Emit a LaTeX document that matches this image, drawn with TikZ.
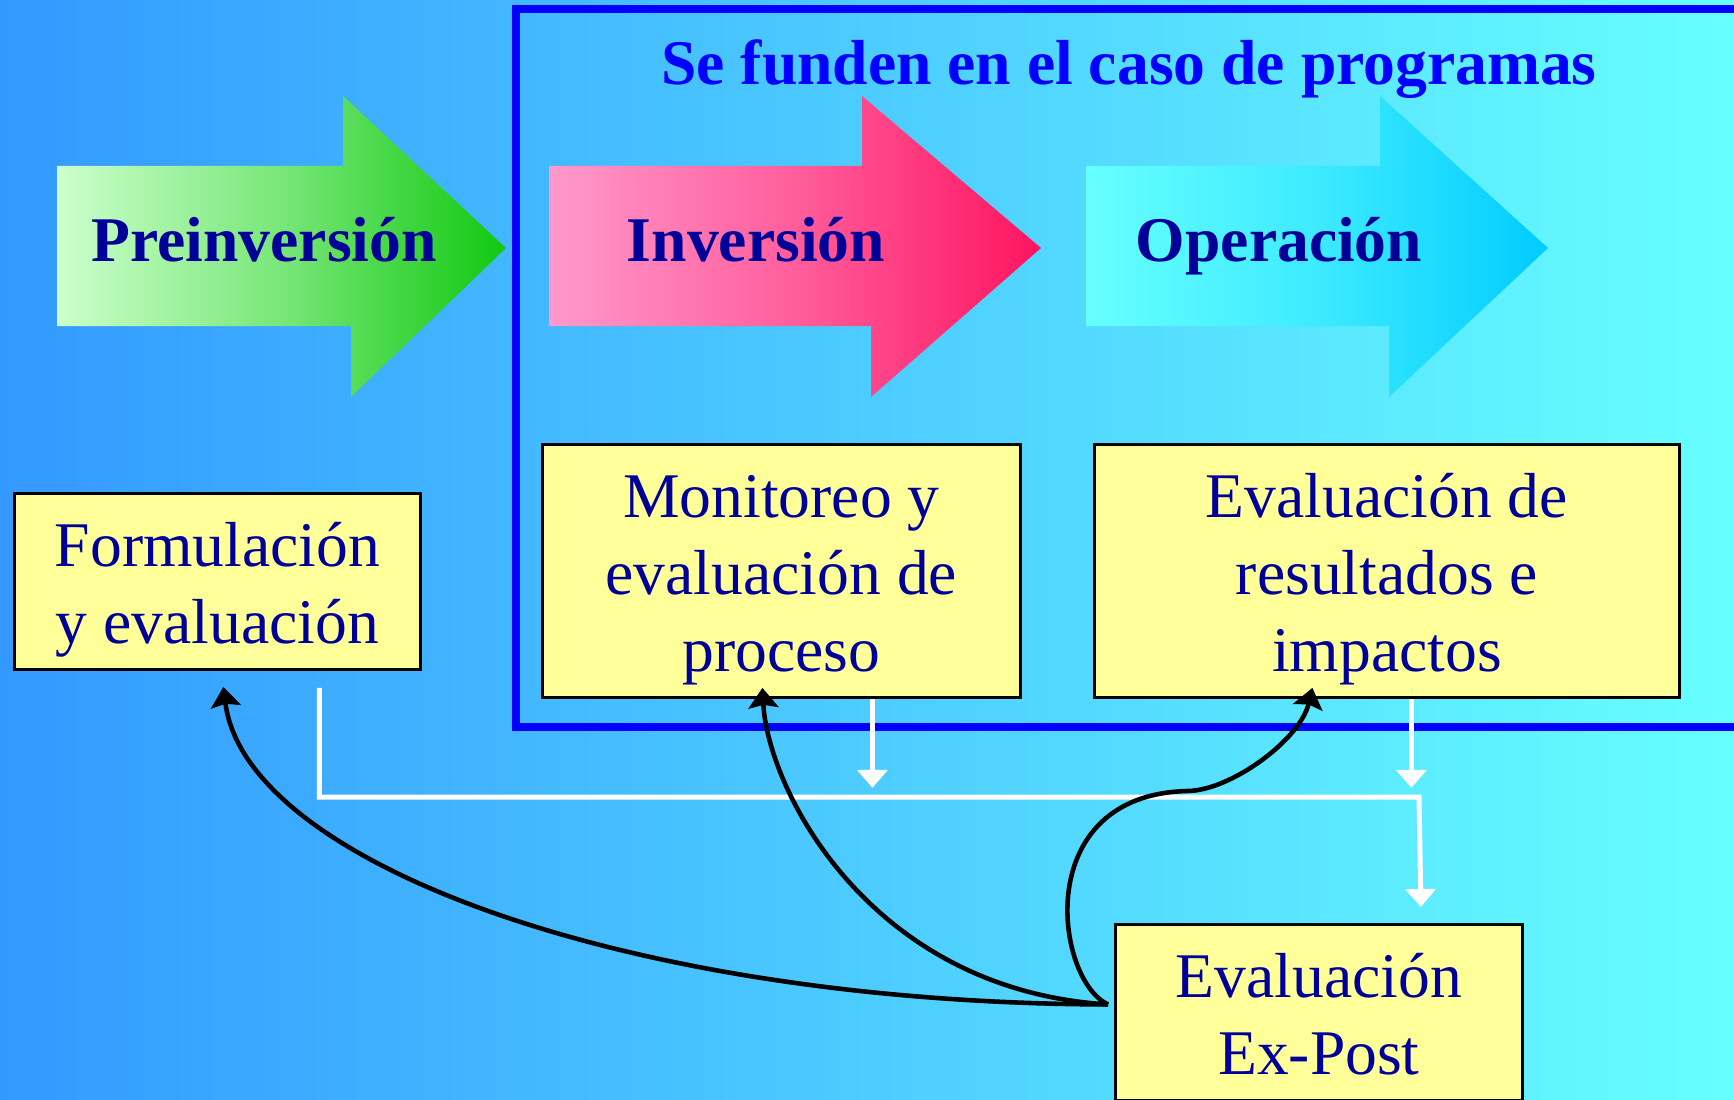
\documentclass[tikz,border=0pt]{standalone}
\usepackage{fontspec}
\setmainfont{Liberation Serif}
\usetikzlibrary{positioning,calc,arrows.meta}

\definecolor{bgleft}{HTML}{3399FF}
\definecolor{bgright}{HTML}{66FFFF}
\definecolor{frameblue}{HTML}{0000FF}
\definecolor{navy}{HTML}{000099}
\definecolor{boxyellow}{HTML}{FFFF99}
\definecolor{preleft}{HTML}{CCFFCC}
\definecolor{preright}{HTML}{11C811}
\definecolor{invleft}{HTML}{FF99CC}
\definecolor{invright}{HTML}{FF1460}
\definecolor{opeleft}{HTML}{66FFFF}
\definecolor{operight}{HTML}{00CCFF}

\newcommand{\tstr}{\rule{0pt}{20.8pt}}
\newcommand{\bstr}{\rule[-7.4pt]{0pt}{7.4pt}}

\begin{document}
\begin{tikzpicture}[x=0.1mm, y=-0.1mm,
  stagebox/.style={draw=black, line width=0.8pt, fill=boxyellow, anchor=north west,
    inner sep=0pt, align=flush center, text=navy, font=\fontsize{18.1pt}{21.9pt}\selectfont},
  stagelabel/.style={anchor=base, text=navy, font=\fontsize{18.1pt}{21.9pt}\selectfont\bfseries},
  wline/.style={white, line width=0.05cm, -{Triangle[length=0.18cm,width=0.3cm]}},
  bline/.style={black, line width=1.3pt, -{Stealth[length=0.2cm,width=0.3cm,inset=0.03cm]}}]

  \useasboundingbox (0,0) rectangle (1734,1099);
  \clip (0,0) rectangle (1734,1099);

  %background
  \shade[left color=bgleft, right color=bgright] (0,0) rectangle (1734,1099);

  %programas frame
  \draw[frameblue, line width=0.08cm] (516,9) rectangle (1800,727);
  \node[anchor=base, text=frameblue, font=\fontsize{18.1pt}{21.9pt}\selectfont\bfseries] (title) at (1129,85) {Se funden en el caso de programas};

  %stage arrows
  \shade[left color=preleft, right color=preright, middle color=preleft!55!preright]
    (57,166) -- (343,166) -- (343,96) -- (506,248) -- (351,397) -- (351,326) -- (57,326) -- cycle;
  \shade[left color=invleft, right color=invright, middle color=invleft!55!invright]
    (549,166) -- (862,166) -- (862,96) -- (1041,248) -- (871,397) -- (871,326) -- (549,326) -- cycle;
  \shade[left color=opeleft, right color=operight, middle color=opeleft!60!operight]
    (1086,166) -- (1380,166) -- (1380,96) -- (1548,248) -- (1389,397) -- (1389,326) -- (1086,326) -- cycle;

  \node[stagelabel] (Pre) at (264,262) {Preinversión};
  \node[stagelabel] (Inv) at (756,262) {Inversión};
  \node[stagelabel] (Ope) at (1279,262) {Operación};

  %evaluation boxes
  \node[stagebox, text width=4.06cm] (Form) at (13,492) {\tstr Formulación\\ y evaluación\bstr};
  \node[stagebox, text width=4.78cm] (Mon) at (541,443) {\tstr Monitoreo y\\ evaluación de\\ proceso\bstr};
  \node[stagebox, text width=5.85cm] (Res) at (1093,443) {\tstr Evaluación de\\ resultados e\\ impactos\bstr};
  \node[stagebox, text width=4.07cm] (ExPost) at (1114,923) {\tstr Evaluación\\ Ex-Post\bstr};

  %white flow
  \coordinate (fork) at (1419,797);
  \draw[wline] ($(Form.south)+(102,17)$) |- (fork) -- ($(ExPost.north)+(102,-16)$);
  \draw[wline] ($(Mon.south)+(91,0)$) -- ++(0,89);
  \draw[wline] ($(Res.south)+(24.5,0)$) -- ++(0,89);

  %feedback curves
  \coordinate (src) at ($(ExPost.west)+(-6,-8)$);
  \draw[bline] (src) .. controls (620,1003) and (245,860) .. ($(Form.south)+(6,16)$);
  \draw[bline] (src) .. controls (870,990) and (768,790) .. ($(Mon.south)+(-19,-11)$);
  \draw[bline] (src) .. controls (1055,980) and (1030,795) .. (1187,791)
    .. controls (1230,791) and (1300,740) .. ($(Res.south)+(-74.5,-11)$);

\end{tikzpicture}
\end{document}
